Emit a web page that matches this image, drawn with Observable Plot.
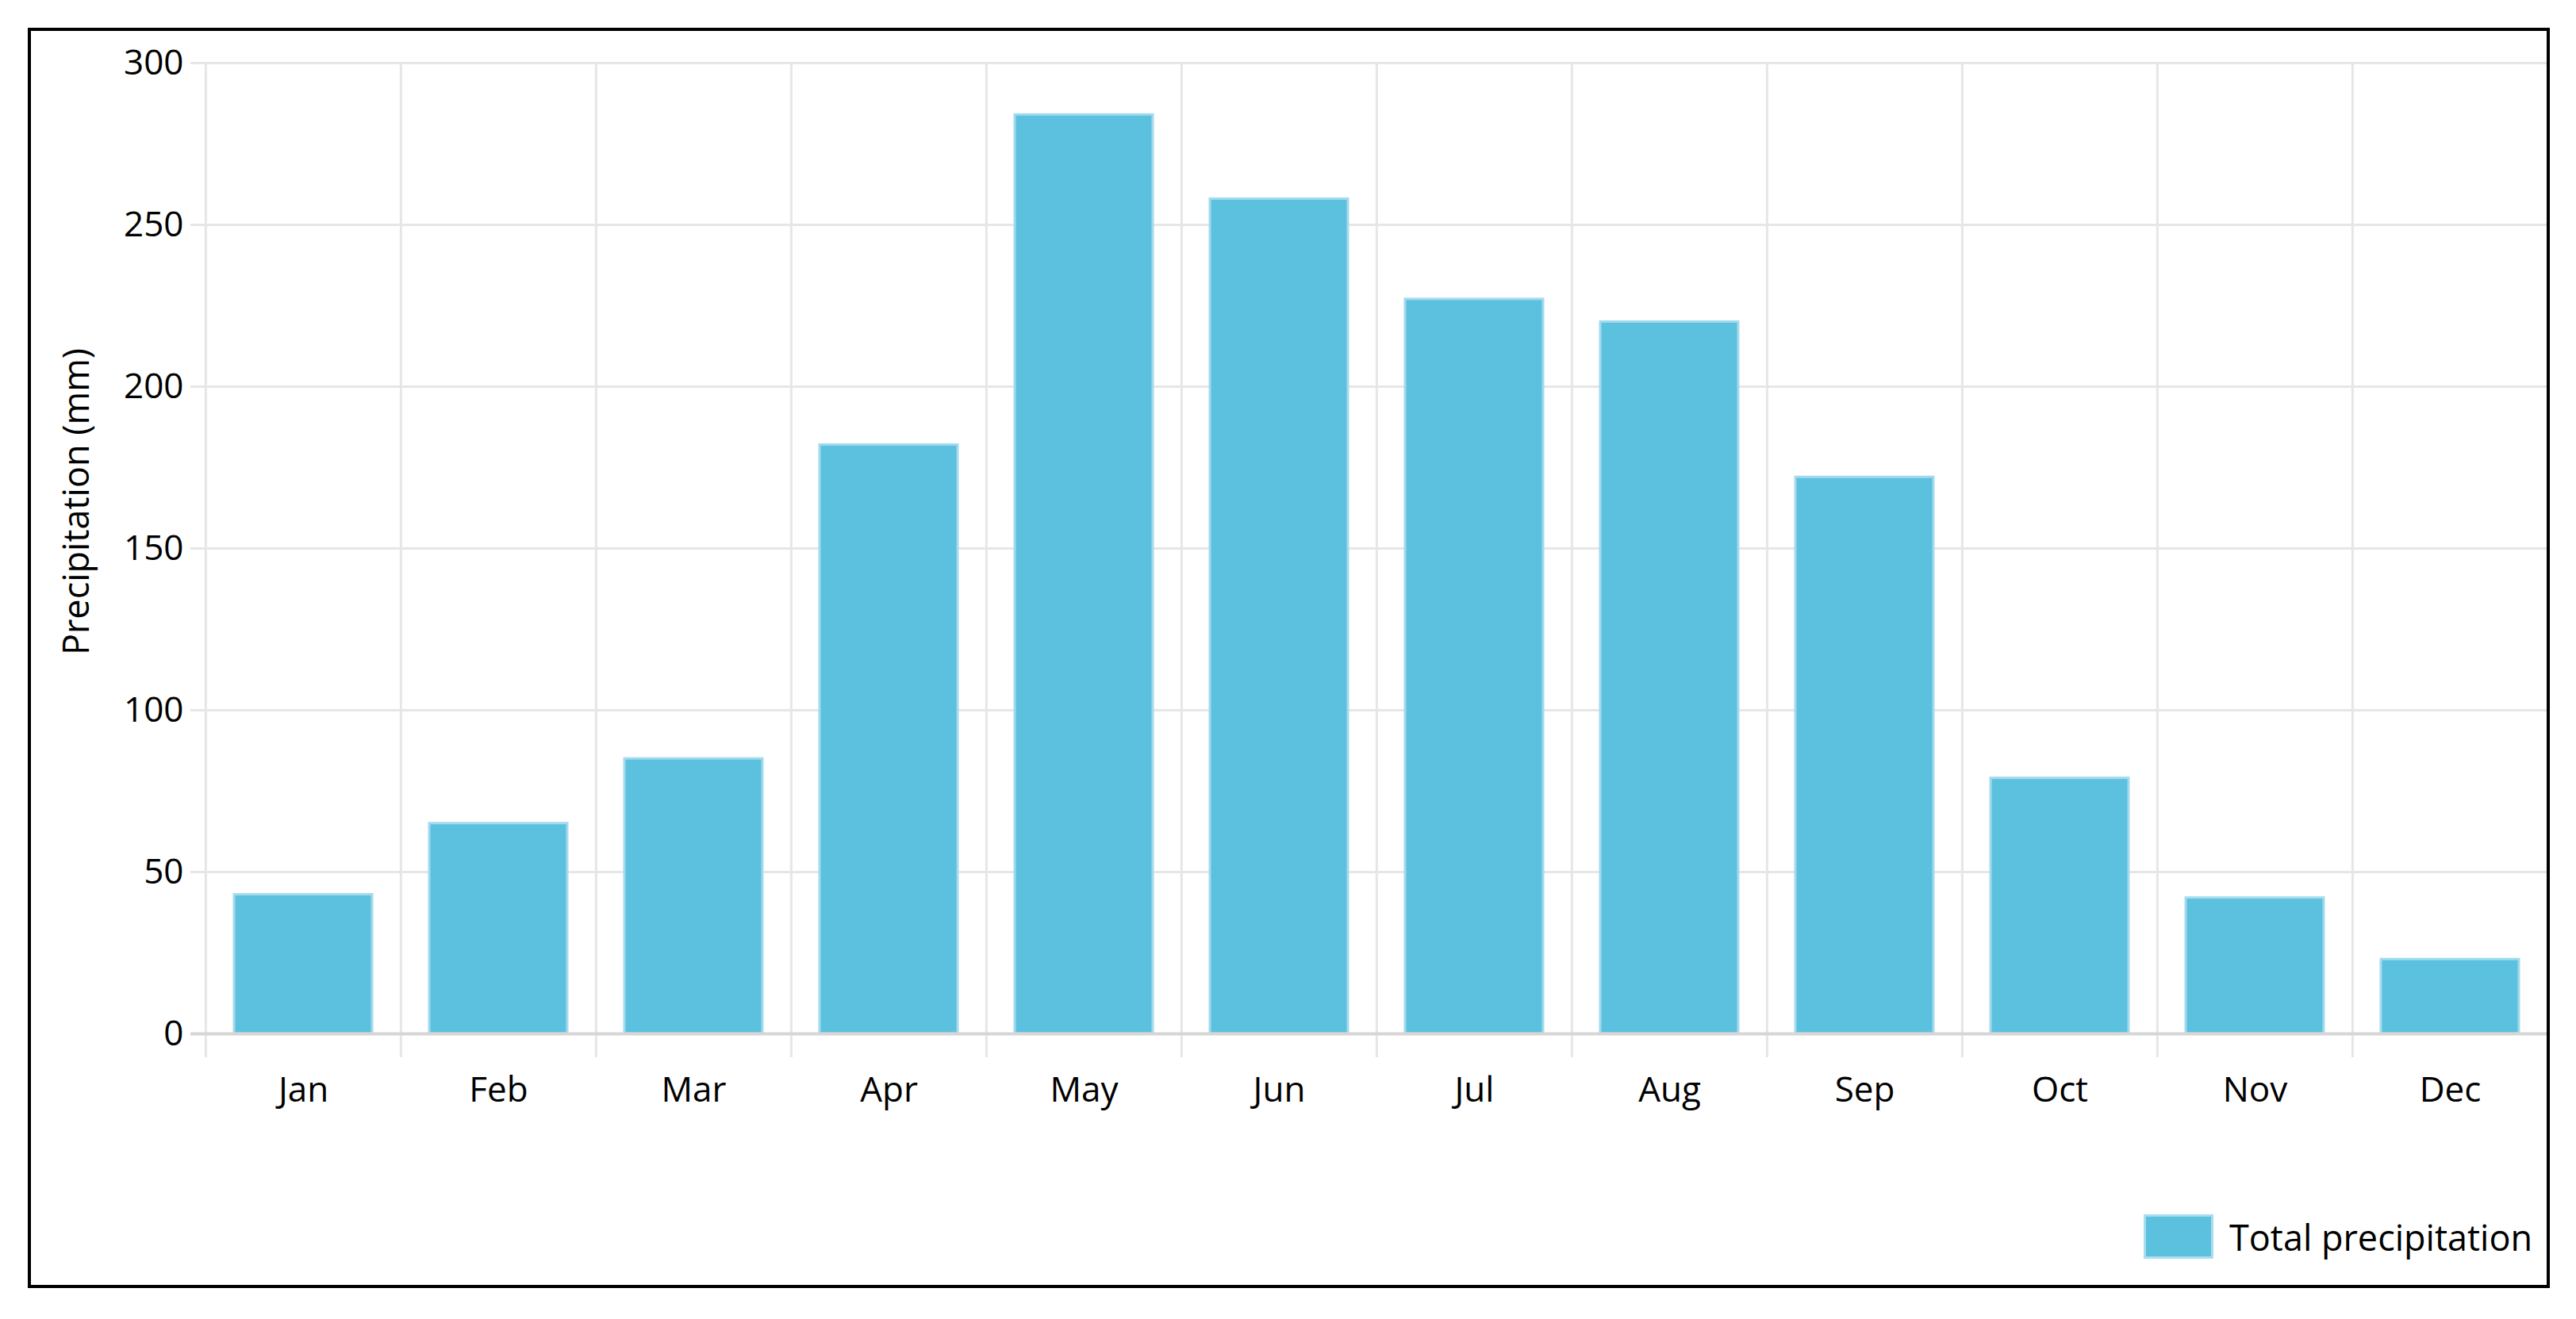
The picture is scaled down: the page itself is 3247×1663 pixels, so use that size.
<!DOCTYPE html>
<html><head><meta charset="utf-8">
<script src="https://cdn.jsdelivr.net/npm/d3@7"></script>
<script src="https://cdn.jsdelivr.net/npm/@observablehq/plot@0.6"></script>
<style>
html,body{margin:0;padding:0;background:#fff;}
body{width:3247px;height:1663px;position:relative;overflow:hidden;font-family:"Open Sans",sans-serif;}
#frame{position:absolute;left:35px;top:35px;width:3179px;height:1589px;border:4px solid #000;box-sizing:border-box;pointer-events:none;}
#chart{position:absolute;left:0;top:0;}
#legend{position:absolute;left:2702px;top:1531px;display:flex;align-items:center;gap:20px;font-size:45px;color:#000;line-height:1;}
#legend .sw{display:inline-block;width:82px;height:50px;background:#5bc1de;border:3px solid #a9ddef;}
</style></head>
<body>
<div id="chart"></div>
<div id="legend"><span class="sw"></span><span id="legtext"></span></div>
<div id="frame"></div>
<script>
const months = ["Jan","Feb","Mar","Apr","May","Jun","Jul","Aug","Sep","Oct","Nov","Dec"];
const precipitation = [43, 65, 85, 182, 284, 258, 227, 220, 172, 79, 42, 23];
const yTicks = [0, 50, 100, 150, 200, 250, 300];
const seriesName = "Total precipitation";
const yLabel = "Precipitation (mm)";

document.getElementById("legtext").textContent = seriesName;
const data = months.map((m, i) => ({month: m, value: precipitation[i]}));
const W = 3247, H = 1420, mL = 257, mR = 35, mT = 79, mB = 117;
const step = (W - mL - mR) / months.length;

const plot = Plot.plot({
  width: W, height: H,
  marginLeft: mL, marginRight: mR, marginTop: mT, marginBottom: mB,
  style: {fontFamily: "Open Sans", fontSize: "44px", color: "#000", background: "transparent"},
  x: {type: "band", domain: months, padding: 0, label: null},
  y: {domain: [0, 300], label: null},
  marks: [
    Plot.ruleY(yTicks.filter(d => d > 0), {y: d => d, stroke: "#e6e6e6", strokeWidth: 3, insetLeft: -17}),
    Plot.ruleX(months, {x: d => d, dx: -step / 2, stroke: "#e6e6e6", strokeWidth: 3, insetBottom: -30}),
    Plot.barY(data, {x: "month", y: "value", fill: "#5bc1de", stroke: "#a3daed", strokeWidth: 3, insetLeft: 36, insetRight: 36}),
    Plot.ruleY([0], {stroke: "#d6d6d6", strokeWidth: 4, insetLeft: -17}),
    Plot.axisY({ticks: yTicks, tickSize: 0, tickPadding: 26, fontSize: 44, label: null}),
    Plot.axisX({tickSize: 0, tickPadding: 54, fontSize: 44, label: null}),
    Plot.text([yLabel], {text: d => d, frameAnchor: "left", textAnchor: "middle", rotate: -90, dx: -160, dy: -59, fontSize: 45, fill: "#000"})
  ]
});
document.getElementById("chart").appendChild(plot);
</script>
</body></html>
